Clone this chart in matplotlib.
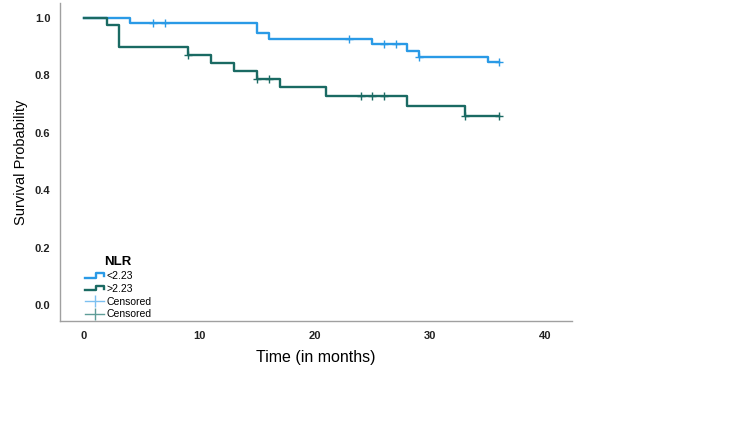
import numpy as np
import matplotlib
matplotlib.use('Agg')
import matplotlib.pyplot as plt
from matplotlib.lines import Line2D
from matplotlib.legend_handler import HandlerBase

plt.rcParams['font.family'] = ['Liberation Sans', 'DejaVu Sans']

# ── data ──
low_times = [0, 4, 15, 16, 25, 28, 29, 35, 36]
low_surv = [1.0, 0.983, 0.948, 0.928, 0.908, 0.886, 0.865, 0.845, 0.845]
low_cens = [6, 7, 23, 26, 27, 29, 36]

high_times = [0, 2, 3, 9, 11, 13, 15, 17, 21, 28, 33, 36]
high_surv = [1.0, 0.974, 0.897, 0.871, 0.844, 0.816, 0.787, 0.758, 0.728, 0.693, 0.659, 0.659]
high_cens = [9, 15, 16, 24, 25, 26, 33, 36]

group_labels = ['<2.23', '>2.23']
xticks = [0, 10, 20, 30, 40]
yticks = [0.0, 0.2, 0.4, 0.6, 0.8, 1.0]

BLUE = '#2a9ae6'
TEAL = '#1a6a63'
BLUE_LT = '#7cc0f0'
TEAL_LT = '#5f9d98'


def surv_at(times, surv, t):
    i = np.searchsorted(times, t, side='right') - 1
    return surv[i]


class StepHandler(HandlerBase):
    def create_artists(self, legend, orig_handle, xdescent, ydescent,
                       width, height, fontsize, trans):
        xs = np.array([0, 0.6, 0.6, 1.0, 1.0]) * width - xdescent
        ys = np.array([0.2, 0.2, 0.85, 0.85, 0.45]) * height - ydescent
        ln = Line2D(xs, ys, color=orig_handle.get_color(),
                    lw=orig_handle.get_linewidth(), transform=trans)
        return [ln]


fig = plt.figure(figsize=(7.5, 4.22), dpi=100)
ax = fig.add_axes([0.08, 0.2393, 0.6827, 0.7536])

ax.step(low_times, low_surv, where='post', color=BLUE, lw=1.7)
ax.step(high_times, high_surv, where='post', color=TEAL, lw=1.7)
ax.plot(low_cens, [surv_at(low_times, low_surv, t) for t in low_cens], ls='none',
        marker='+', ms=5.5, mew=1.0, color=BLUE)
ax.plot(high_cens, [surv_at(high_times, high_surv, t) for t in high_cens], ls='none',
        marker='+', ms=5.5, mew=1.0, color=TEAL)

ax.set_xlim(-2.08, 42.3)
ax.set_ylim(-0.0557, 1.052)
ax.set_xticks(xticks)
ax.set_yticks(yticks)
ax.set_xticklabels([str(v) for v in xticks], fontweight='bold', fontsize=8, color='#222222')
ax.set_yticklabels([f'{v:.1f}' for v in yticks], fontweight='bold', fontsize=8, color='#222222')
ax.tick_params(length=0, pad=7)
for s in ['top', 'right']:
    ax.spines[s].set_visible(False)
for s in ['left', 'bottom']:
    ax.spines[s].set_color('#a0a0a0')
    ax.spines[s].set_linewidth(1.0)

ax.set_ylabel('Survival Probability', fontsize=10.5, labelpad=5)
ax.set_xlabel('Time (in months)', fontsize=11.5, labelpad=7)

handles = [Line2D([], [], color=BLUE, lw=1.7), Line2D([], [], color=TEAL, lw=1.7),
           Line2D([], [], color=BLUE_LT, lw=1.0, marker='|', ms=8, mew=1.0),
           Line2D([], [], color=TEAL_LT, lw=1.0, marker='|', ms=8, mew=1.0)]
labels = group_labels + ['Censored', 'Censored']
leg = ax.legend(handles, labels, loc='lower left', bbox_to_anchor=(0.035, -0.018),
                frameon=False, fontsize=7.5, title='NLR',
                title_fontproperties={'weight': 'bold', 'size': 9.5},
                handlelength=1.8, handletextpad=0.2, labelspacing=0.27, borderpad=0.2,
                handler_map={handles[0]: StepHandler(), handles[1]: StepHandler()})

fig.savefig('out.png', dpi=100)
